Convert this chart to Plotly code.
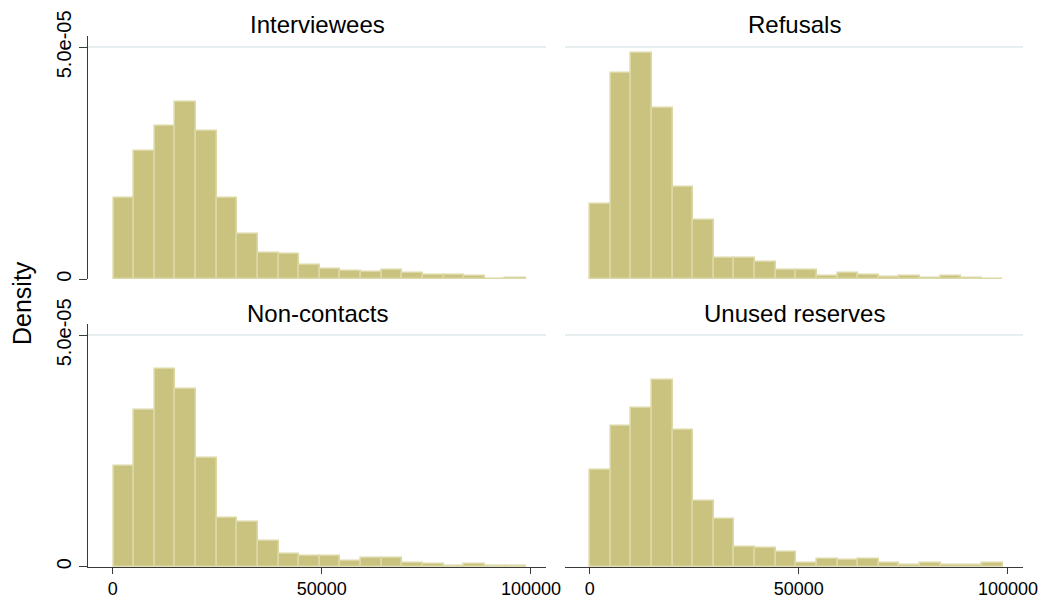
import plotly.graph_objects as go

# Income density histograms by response outcome (20 bins each)
groups = ["Interviewees", "Refusals", "Non-contacts", "Unused reserves"]

# first bin edge and common bin width for each group
bin_start = {"Interviewees": 240, "Refusals": 80, "Non-contacts": 240, "Unused reserves": 80}
bin_width = {"Interviewees": 4928, "Refusals": 4932, "Non-contacts": 4928, "Unused reserves": 4932}

# densities, in units of 1e-05
interviewees = [1.76, 2.76, 3.30, 3.83, 3.20, 1.76, 0.98, 0.56, 0.54, 0.30,
                0.22, 0.18, 0.16, 0.20, 0.13, 0.09, 0.09, 0.065, 0.0, 0.03]
refusals = [1.62, 4.44, 4.885, 3.685, 1.99, 1.28, 0.47, 0.47, 0.37, 0.19,
            0.21, 0.07, 0.13, 0.09, 0.05, 0.07, 0.03, 0.07, 0.03, 0.014]
non_contacts = [2.17, 3.39, 4.265, 3.85, 2.36, 1.045, 0.965, 0.555, 0.27, 0.23,
                0.23, 0.12, 0.18, 0.18, 0.08, 0.06, 0.007, 0.05, 0.007, 0.007]
unused_reserves = [2.10, 3.04, 3.44, 4.035, 2.95, 1.42, 1.03, 0.42, 0.40, 0.31,
                   0.09, 0.17, 0.14, 0.17, 0.09, 0.03, 0.09, 0.04, 0.03, 0.07]

densities = {
    "Interviewees": interviewees,
    "Refusals": refusals,
    "Non-contacts": non_contacts,
    "Unused reserves": unused_reserves,
}

x_ticks = [0, 50000, 100000]
x_tick_text = ["0", "50000", "100000"]
y_ticks = [0, 5e-05]
y_tick_text = ["0", "5.0e-05"]

W, H = 1051, 601
FONT = "Liberation Sans, Arial, Helvetica, sans-serif"
BAR_FILL = "#cac37f"
BAR_EDGE = "#dcd8a6"
GRID = "#e6eef0"
AXIS = "#3a3a3a"

# panel boxes in pixels: (left, right, top, bottom)
panels = {
    "Interviewees": (88, 546, 36, 279.3),
    "Refusals": (565, 1023, 36, 279.3),
    "Non-contacts": (88, 546, 324, 566.7),
    "Unused reserves": (565, 1023, 324, 566.7),
}

x_range = [-5890, 103590]
y_range = [0, 5.245e-05]

fig = go.Figure()
layout = dict(
    width=W, height=H,
    margin=dict(l=0, r=0, t=0, b=0, autoexpand=False),
    paper_bgcolor="white", plot_bgcolor="white",
    showlegend=False,
    font=dict(family=FONT, color="black"),
    bargap=0,
)

annotations = []
for i, g in enumerate(groups, start=1):
    left, right, top, bottom = panels[g]
    xa = "x" if i == 1 else f"x{i}"
    ya = "y" if i == 1 else f"y{i}"
    start, w = bin_start[g], bin_width[g]
    dens = densities[g]
    centers = [start + (k + 0.5) * w for k in range(len(dens))]
    fig.add_trace(go.Bar(
        x=centers, y=[d * 1e-05 for d in dens], width=w,
        marker=dict(color=BAR_FILL, line=dict(color=BAR_EDGE, width=1.6)),
        xaxis=xa, yaxis=ya, hoverinfo="skip",
    ))

    is_left = g in ("Interviewees", "Non-contacts")
    is_bottom = g in ("Non-contacts", "Unused reserves")

    layout[f"xaxis{'' if i == 1 else i}"] = dict(
        domain=[left / W, right / W], anchor=ya, range=x_range,
        tickvals=x_ticks, ticktext=x_tick_text,
        showticklabels=is_bottom, ticks="outside" if is_bottom else "",
        ticklen=6, tickcolor=AXIS, tickwidth=1.2,
        showline=is_bottom, linecolor=AXIS, linewidth=1.2,
        showgrid=False, zeroline=False, automargin=False,
        tickfont=dict(size=18, family=FONT, color="black"),
        fixedrange=True,
    )
    layout[f"yaxis{'' if i == 1 else i}"] = dict(
        domain=[1 - bottom / H, 1 - top / H], anchor=xa, range=y_range,
        tickvals=y_ticks, ticktext=y_tick_text,
        showticklabels=is_left, ticks="outside" if is_left else "",
        ticklen=8, tickcolor=AXIS, tickwidth=1.2, tickangle=-90,
        showline=is_left, linecolor=AXIS, linewidth=1.2,
        showgrid=True, gridcolor=GRID, gridwidth=1.5,
        zeroline=False, automargin=False,
        tickfont=dict(size=20, family=FONT, color="black"),
        fixedrange=True,
    )

    annotations.append(dict(
        text=g, xref="paper", yref="paper",
        x=(left + right) / 2 / W, y=1 - (top - 11) / H,
        xanchor="center", yanchor="middle", showarrow=False,
        font=dict(size=24, family=FONT, color="black"),
    ))

annotations.append(dict(
    text="Density", xref="paper", yref="paper",
    x=22 / W, y=1 - 303 / H, xanchor="center", yanchor="middle",
    textangle=-90, showarrow=False,
    font=dict(size=25, family=FONT, color="black"),
))

layout["annotations"] = annotations
fig.update_layout(**layout)
fig.write_html("out.html")
